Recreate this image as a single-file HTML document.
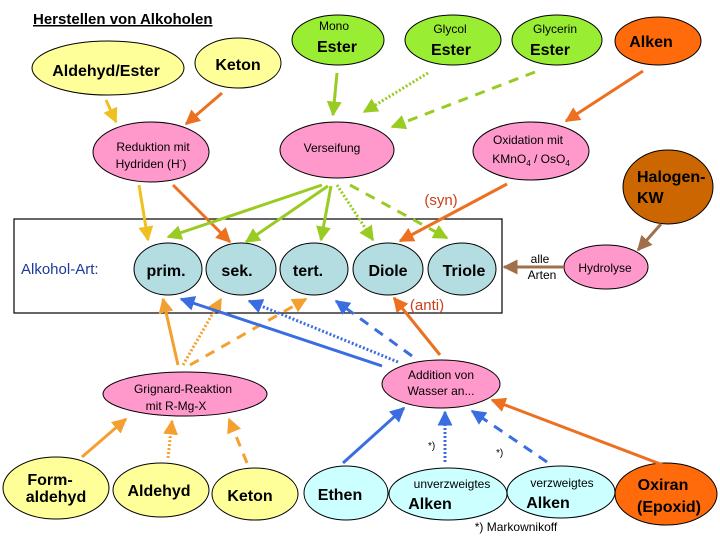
<!DOCTYPE html>
<html><head><meta charset="utf-8"><style>
body{margin:0;background:#fff}
svg{display:block;font-family:"Liberation Sans",Arial,sans-serif}
</style></head><body>
<svg width="720" height="540" viewBox="0 0 720 540" xmlns="http://www.w3.org/2000/svg">
<defs>
<marker id="aY" viewBox="0 0 10 10" refX="9" refY="5" markerWidth="5" markerHeight="5" orient="auto"><path d="M0,0L10,5L0,10z" fill="#f0c020"/></marker>
<marker id="aO" viewBox="0 0 10 10" refX="9" refY="5" markerWidth="5" markerHeight="5" orient="auto"><path d="M0,0L10,5L0,10z" fill="#ec7020"/></marker>
<marker id="aG" viewBox="0 0 10 10" refX="9" refY="5" markerWidth="5" markerHeight="5" orient="auto"><path d="M0,0L10,5L0,10z" fill="#99cc22"/></marker>
<marker id="aA" viewBox="0 0 10 10" refX="9" refY="5" markerWidth="5" markerHeight="5" orient="auto"><path d="M0,0L10,5L0,10z" fill="#f4a030"/></marker>
<marker id="aB" viewBox="0 0 10 10" refX="9" refY="5" markerWidth="5" markerHeight="5" orient="auto"><path d="M0,0L10,5L0,10z" fill="#3a6ee0"/></marker>
<marker id="aBr" viewBox="0 0 10 10" refX="9" refY="5" markerWidth="5" markerHeight="5" orient="auto"><path d="M0,0L10,5L0,10z" fill="#a0704a"/></marker>
</defs>

<rect x="14" y="219" width="488" height="94" fill="none" stroke="#000" stroke-width="1.2"/>

<g stroke="#000" stroke-width="1">
<ellipse cx="338" cy="40" rx="46" ry="25" fill="#99ee33"/>
<ellipse cx="453" cy="40" rx="48" ry="25" fill="#99ee33"/>
<ellipse cx="557" cy="40" rx="45" ry="25" fill="#99ee33"/>
<ellipse cx="658" cy="41" rx="43" ry="24" fill="#ff6a0a"/>
<ellipse cx="108" cy="68" rx="76" ry="27" fill="#ffff99"/>
<ellipse cx="238" cy="63" rx="43" ry="25" fill="#ffff99"/>
<ellipse cx="151" cy="152" rx="58" ry="30" fill="#ff99cc"/>
<ellipse cx="337" cy="150" rx="57" ry="28" fill="#ff99cc"/>
<ellipse cx="531" cy="151" rx="58" ry="29" fill="#ff99cc"/>
<ellipse cx="668" cy="187" rx="45" ry="37" fill="#cc6600"/>
<ellipse cx="168" cy="269" rx="34" ry="26" fill="#b4dde2"/>
<ellipse cx="241" cy="269" rx="35" ry="26" fill="#b4dde2"/>
<ellipse cx="314" cy="269" rx="34" ry="26" fill="#b4dde2"/>
<ellipse cx="388" cy="269" rx="35" ry="26" fill="#b4dde2"/>
<ellipse cx="462" cy="269" rx="34" ry="26" fill="#b4dde2"/>
<ellipse cx="606" cy="267" rx="42" ry="22" fill="#ff99cc"/>
<ellipse cx="185" cy="394" rx="82" ry="22" fill="#ff99cc"/>
<ellipse cx="441" cy="384" rx="59" ry="24" fill="#ff99cc"/>
<ellipse cx="56" cy="488" rx="53" ry="31" fill="#ffff99"/>
<ellipse cx="161" cy="490" rx="48" ry="27" fill="#ffff99"/>
<ellipse cx="255" cy="494" rx="43" ry="26" fill="#ffff99"/>
<ellipse cx="346" cy="493" rx="42" ry="27" fill="#ccffff"/>
<ellipse cx="448" cy="494" rx="59" ry="26" fill="#ccffff"/>
<ellipse cx="561" cy="492" rx="54" ry="26" fill="#ccffff"/>
<ellipse cx="666" cy="494" rx="51" ry="31" fill="#ff6a0a"/>
</g>

<g fill="none" stroke-width="3">
<line x1="106" y1="100" x2="116" y2="122" stroke="#f0c020" marker-end="url(#aY)"/>
<line x1="222" y1="93" x2="186" y2="124" stroke="#ec7020" marker-end="url(#aO)"/>
<line x1="337" y1="73" x2="333" y2="115" stroke="#99cc22" marker-end="url(#aG)"/>
<line x1="428" y1="73" x2="364" y2="112" stroke="#99cc22" stroke-dasharray="2 2" marker-end="url(#aG)"/>
<line x1="535" y1="72" x2="392" y2="127" stroke="#99cc22" stroke-dasharray="10 8" marker-end="url(#aG)"/>
<line x1="643" y1="71" x2="566" y2="121" stroke="#ec7020" marker-end="url(#aO)"/>
<line x1="139" y1="185" x2="148" y2="240" stroke="#f0c020" marker-end="url(#aY)"/>
<line x1="173" y1="185" x2="230" y2="242" stroke="#ec7020" marker-end="url(#aO)"/>
<line x1="322" y1="185" x2="168" y2="237" stroke="#99cc22" marker-end="url(#aG)"/>
<line x1="328" y1="186" x2="246" y2="242" stroke="#99cc22" marker-end="url(#aG)"/>
<line x1="331" y1="186" x2="321" y2="240" stroke="#99cc22" marker-end="url(#aG)"/>
<line x1="337" y1="185" x2="373" y2="240" stroke="#99cc22" stroke-dasharray="2 2" marker-end="url(#aG)"/>
<line x1="350" y1="185" x2="447" y2="238" stroke="#99cc22" stroke-dasharray="10 8" marker-end="url(#aG)"/>
<line x1="507" y1="184" x2="400" y2="241" stroke="#ec7020" marker-end="url(#aO)"/>
<line x1="661" y1="224" x2="638" y2="250" stroke="#a0704a" marker-end="url(#aBr)"/>
<line x1="564" y1="267" x2="504" y2="267" stroke="#a0704a" marker-end="url(#aBr)"/>
<line x1="178" y1="365" x2="163" y2="299" stroke="#f4a030" marker-end="url(#aA)"/>
<line x1="183" y1="365" x2="221" y2="299" stroke="#f4a030" stroke-dasharray="2 2" marker-end="url(#aA)"/>
<line x1="190" y1="365" x2="306" y2="299" stroke="#f4a030" stroke-dasharray="10 8" marker-end="url(#aA)"/>
<line x1="382" y1="366" x2="181" y2="299" stroke="#3a6ee0" marker-end="url(#aB)"/>
<line x1="398" y1="362" x2="249" y2="301" stroke="#3a6ee0" stroke-dasharray="2 2" marker-end="url(#aB)"/>
<line x1="412" y1="356" x2="336" y2="301" stroke="#3a6ee0" stroke-dasharray="10 8" marker-end="url(#aB)"/>
<line x1="440" y1="355" x2="394" y2="298" stroke="#ec7020" marker-end="url(#aO)"/>
<line x1="82" y1="457" x2="126" y2="419" stroke="#f4a030" marker-end="url(#aA)"/>
<line x1="168" y1="458" x2="172" y2="421" stroke="#f4a030" stroke-dasharray="2 2" marker-end="url(#aA)"/>
<line x1="247" y1="463" x2="229" y2="419" stroke="#f4a030" stroke-dasharray="10 8" marker-end="url(#aA)"/>
<line x1="343" y1="463" x2="404" y2="408" stroke="#3a6ee0" marker-end="url(#aB)"/>
<line x1="445" y1="462" x2="445" y2="412" stroke="#3a6ee0" stroke-dasharray="2 2" marker-end="url(#aB)"/>
<line x1="547" y1="462" x2="472" y2="411" stroke="#3a6ee0" stroke-dasharray="10 8" marker-end="url(#aB)"/>
<line x1="663" y1="465" x2="492" y2="400" stroke="#ec7020" marker-end="url(#aO)"/>
</g>

<text x="33" y="24" font-size="15" font-weight="bold" text-decoration="underline">Herstellen von Alkoholen</text>
<g text-anchor="middle" fill="#000">
<text x="334" y="30" font-size="12">Mono</text><text x="337" y="52" font-size="16" font-weight="bold">Ester</text>
<text x="450" y="33" font-size="12">Glycol</text><text x="451" y="55" font-size="16" font-weight="bold">Ester</text>
<text x="555" y="33" font-size="12">Glycerin</text><text x="550" y="55" font-size="16" font-weight="bold">Ester</text>
<text x="651" y="47" font-size="16" font-weight="bold">Alken</text>
<text x="106" y="76" font-size="16" font-weight="bold">Aldehyd/Ester</text>
<text x="238" y="70" font-size="16" font-weight="bold">Keton</text>
<text x="153" y="151" font-size="12">Reduktion mit</text><text x="151" y="168" font-size="12">Hydriden (H<tspan font-size="8" dy="-5">-</tspan><tspan dy="5">)</tspan></text>
<text x="332" y="152" font-size="12">Verseifung</text>
<text x="528" y="144" font-size="12">Oxidation mit</text><text x="531" y="163" font-size="12">KMnO<tspan font-size="8" dy="3">4</tspan><tspan dy="-3"> / OsO</tspan><tspan font-size="8" dy="3">4</tspan></text>
<text x="441" y="205" font-size="15" fill="#c8401a">(syn)</text>
<text x="427" y="310" font-size="15" fill="#c8401a">(anti)</text>
<text x="166" y="276" font-size="16" font-weight="bold">prim.</text>
<text x="237" y="276" font-size="16" font-weight="bold">sek.</text>
<text x="308" y="276" font-size="16" font-weight="bold">tert.</text>
<text x="388" y="276" font-size="16" font-weight="bold">Diole</text>
<text x="464" y="276" font-size="16" font-weight="bold">Triole</text>
<text x="605" y="272" font-size="12">Hydrolyse</text>
<text x="540" y="263" font-size="12">alle</text><text x="542" y="279" font-size="12">Arten</text>
<text x="183" y="393" font-size="12">Grignard-Reaktion</text><text x="176" y="410" font-size="12">mit R-Mg-X</text>
<text x="441" y="379" font-size="12">Addition von</text><text x="441" y="395" font-size="12">Wasser an...</text>
<text x="50" y="485" font-size="16" font-weight="bold">Form-</text><text x="56" y="502" font-size="16" font-weight="bold">aldehyd</text>
<text x="159" y="496" font-size="16" font-weight="bold">Aldehyd</text>
<text x="250" y="501" font-size="16" font-weight="bold">Keton</text>
<text x="340" y="500" font-size="16" font-weight="bold">Ethen</text>
<text x="452" y="488" font-size="12">unverzweigtes</text><text x="430" y="509" font-size="16" font-weight="bold">Alken</text>
<text x="562" y="487" font-size="12">verzweigtes</text><text x="548" y="508" font-size="16" font-weight="bold">Alken</text>
<text x="663" y="490" font-size="16" font-weight="bold">Oxiran</text><text x="669" y="512" font-size="16" font-weight="bold">(Epoxid)</text>
<text x="516" y="531" font-size="12">*) Markownikoff</text>
</g>
<text x="637" y="182" font-size="16" font-weight="bold">Halogen-</text>
<text x="637" y="203" font-size="16" font-weight="bold">KW</text>
<text x="21" y="274" font-size="15" fill="#1a3a9a">Alkohol-Art:</text>
<text x="428" y="449" font-size="10">*)</text>
<text x="496" y="456" font-size="10">*)</text>
</svg>
</body></html>
